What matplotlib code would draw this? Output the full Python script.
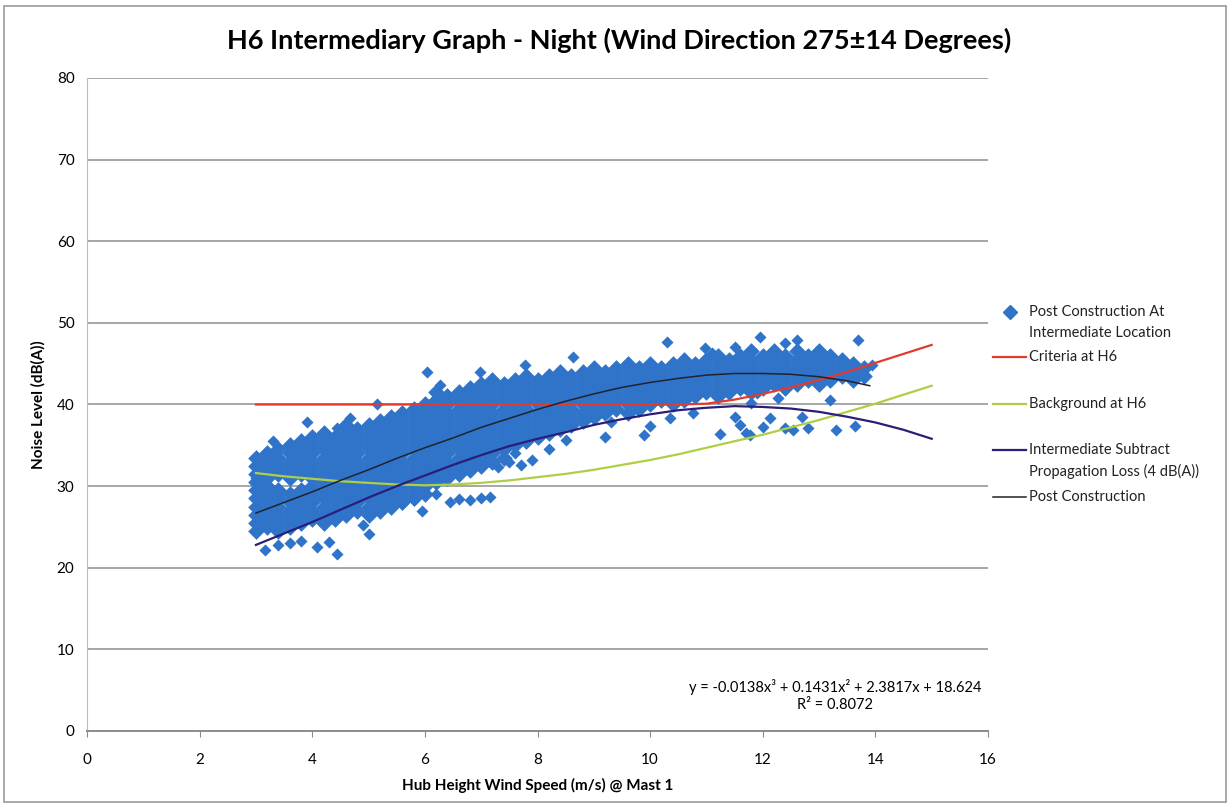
import matplotlib

matplotlib.use("Agg")
import matplotlib.pyplot as plt  # noqa: E402
from matplotlib.lines import Line2D  # noqa: E402
from matplotlib.patches import Rectangle  # noqa: E402

plt.rcParams["font.family"] = ["Lato", "DejaVu Sans"]

TITLE = "H6 Intermediary Graph - Night (Wind Direction 275\u00b114 Degrees)"
X_LABEL = "Hub Height Wind Speed (m/s) @ Mast 1"
Y_LABEL = "Noise Level (dB(A))"
EQUATION = "y = -0.0138x\u00b3 + 0.1431x\u00b2 + 2.3817x + 18.624"
R_SQUARED = "R\u00b2 = 0.8072"

x_ticks = [0, 2, 4, 6, 8, 10, 12, 14, 16]
y_ticks = [0, 10, 20, 30, 40, 50, 60, 70, 80]

# dense cloud, read column by column (wind speed -> noise levels)
cloud_columns = [
    (3.0, [24.5, 25.5, 26.5, 27.5, 28.5, 29.5, 30.5, 31.5, 32.5, 33.5]),
    (3.2, [25.0, 26.0, 27.0, 28.0, 29.0, 30.0, 31.0, 32.0, 33.0, 34.0]),
    (3.4, [24.5, 25.5, 26.5, 27.5, 28.5, 29.5, 31.5, 32.5, 33.5, 34.5]),
    (3.6, [25.0, 26.0, 27.0, 28.0, 29.0, 31.0, 32.0, 33.0, 34.0, 35.0]),
    (3.8, [25.5, 26.5, 27.5, 28.5, 29.5, 31.5, 32.5, 33.5, 34.5, 35.5]),
    (4.0, [26.0, 27.0, 28.0, 29.0, 30.0, 31.0, 32.0, 33.0, 34.0, 35.0, 36.0]),
    (4.2, [25.5, 26.5, 27.5, 28.5, 29.5, 30.5, 31.5, 32.5, 33.5, 34.5, 35.5, 36.5]),
    (4.4, [26.0, 27.0, 28.0, 29.0, 30.0, 31.0, 32.0, 33.0, 34.0, 35.0, 36.0]),
    (4.6, [26.5, 27.5, 28.5, 29.5, 30.5, 31.5, 32.5, 33.5, 34.5, 35.5, 36.5, 37.5]),
    (4.8, [27.0, 28.0, 29.0, 30.0, 31.0, 32.0, 33.0, 34.0, 35.0, 36.0, 37.0]),
    (5.0, [26.5, 27.5, 28.5, 29.5, 30.5, 31.5, 32.5, 33.5, 34.5, 35.5, 36.5, 37.5]),
    (5.2, [27.0, 28.0, 29.0, 30.0, 31.0, 32.0, 33.0, 34.0, 35.0, 36.0, 37.0, 38.0]),
    (5.4, [27.5, 28.5, 29.5, 30.5, 31.5, 32.5, 33.5, 34.5, 35.5, 36.5, 37.5, 38.5]),
    (5.6, [28.0, 29.0, 30.0, 31.0, 32.0, 33.0, 34.0, 35.0, 36.0, 37.0, 38.0, 39.0]),
    (5.8, [28.5, 29.5, 30.5, 31.5, 32.5, 33.5, 34.5, 35.5, 36.5, 37.5, 38.5, 39.5]),
    (6.0, [29.0, 30.0, 31.0, 32.0, 33.0, 34.0, 35.0, 36.0, 37.0, 38.0, 39.0, 40.0]),
    (6.2, [30.5, 31.5, 32.5, 33.5, 34.5, 35.5, 36.5, 37.5, 38.5, 39.5, 40.5, 41.5]),
    (6.4, [31.0, 32.0, 33.0, 34.0, 35.0, 36.0, 37.0, 38.0, 39.0, 40.0, 41.0]),
    (6.6, [31.5, 32.5, 33.5, 34.5, 35.5, 36.5, 37.5, 38.5, 39.5, 40.5, 41.5]),
    (6.8, [32.0, 33.0, 34.0, 35.0, 36.0, 37.0, 38.0, 39.0, 40.0, 41.0, 42.0]),
    (7.0, [32.5, 33.5, 34.5, 35.5, 36.5, 37.5, 38.5, 39.5, 40.5, 41.5, 42.5]),
    (7.2, [33.0, 34.0, 35.0, 36.0, 37.0, 38.0, 39.0, 40.0, 41.0, 42.0, 43.0]),
    (7.4, [33.5, 34.5, 35.5, 36.5, 37.5, 38.5, 39.5, 40.5, 41.5, 42.5]),
    (7.6, [35.0, 36.0, 37.0, 38.0, 39.0, 40.0, 41.0, 42.0, 43.0]),
    (7.8, [35.5, 36.5, 37.5, 38.5, 39.5, 40.5, 41.5, 42.5, 43.5]),
    (8.0, [36.0, 37.0, 38.0, 39.0, 40.0, 41.0, 42.0, 43.0]),
    (8.2, [36.5, 37.5, 38.5, 39.5, 40.5, 41.5, 42.5, 43.5]),
    (8.4, [37.0, 38.0, 39.0, 40.0, 41.0, 42.0, 43.0, 44.0]),
    (8.6, [37.5, 38.5, 39.5, 40.5, 41.5, 42.5, 43.5]),
    (8.8, [38.0, 39.0, 40.0, 41.0, 42.0, 43.0, 44.0]),
    (9.0, [38.5, 39.5, 40.5, 41.5, 42.5, 43.5, 44.5]),
    (9.2, [39.0, 40.0, 41.0, 42.0, 43.0, 44.0]),
    (9.4, [39.5, 40.5, 41.5, 42.5, 43.5, 44.5]),
    (9.6, [39.0, 40.0, 41.0, 42.0, 43.0, 44.0, 45.0]),
    (9.8, [39.5, 40.5, 41.5, 42.5, 43.5, 44.5]),
    (10.0, [40.0, 41.0, 42.0, 43.0, 44.0, 45.0]),
    (10.2, [40.5, 41.5, 42.5, 43.5, 44.5]),
    (10.4, [40.0, 41.0, 42.0, 43.0, 44.0, 45.0]),
    (10.6, [40.5, 41.5, 42.5, 43.5, 44.5, 45.5]),
    (10.8, [41.0, 42.0, 43.0, 44.0, 45.0]),
    (11.0, [41.5, 42.5, 43.5, 44.5, 45.5]),
    (11.2, [41.0, 42.0, 43.0, 44.0, 45.0, 46.0]),
    (11.4, [41.5, 42.5, 43.5, 44.5, 45.5]),
    (11.6, [42.0, 43.0, 44.0, 45.0, 46.0]),
    (11.8, [41.5, 42.5, 43.5, 44.5, 45.5, 46.5]),
    (12.0, [42.0, 43.0, 44.0, 45.0, 46.0]),
    (12.2, [42.5, 43.5, 44.5, 45.5, 46.5]),
    (12.4, [42.0, 43.0, 44.0, 45.0, 46.0]),
    (12.6, [42.5, 43.5, 44.5, 45.5, 46.5]),
    (12.8, [43.0, 44.0, 45.0, 46.0]),
    (13.0, [42.5, 43.5, 44.5, 45.5, 46.5]),
    (13.2, [43.0, 44.0, 45.0, 46.0]),
    (13.4, [43.5, 44.5, 45.5]),
    (13.6, [43.0, 44.0, 45.0]),
    (13.8, [43.5, 44.5]),
]

# scattered readings outside the dense band
stray_x = [3.16, 3.4, 3.6, 3.8, 4.08, 4.3, 4.44, 3.9, 4.67, 4.44, 5.15, 5.0,
           6.04, 6.27, 6.98, 7.78, 5.95, 6.45, 6.6, 6.8, 7.0, 7.16, 7.3, 7.5,
           7.7, 7.9, 7.6, 8.2, 8.5, 9.2, 9.3, 9.9, 10.0, 10.36, 10.76, 11.24,
           8.63, 10.3, 10.98, 11.1, 11.5, 11.95, 12.4, 12.6, 13.7, 11.5, 11.6,
           11.7, 11.78, 12.0, 12.13, 12.4, 12.54, 12.7, 12.8, 13.2, 13.3, 13.64,
           12.27, 11.9, 11.8, 13.94, 3.0, 3.3, 5.6, 5.8, 6.2, 4.9]
stray_y = [22.2, 22.8, 23.0, 23.3, 22.5, 23.2, 21.7, 37.9, 38.4, 37.1, 40.0, 24.1,
           44.0, 42.4, 44.0, 44.8, 27.0, 28.1, 28.4, 28.3, 28.6, 28.7, 32.4, 33.0,
           32.6, 33.2, 34.0, 34.5, 35.7, 36.0, 37.9, 36.3, 37.4, 38.4, 39.0, 36.4,
           45.8, 47.7, 46.9, 46.3, 47.1, 48.3, 47.5, 47.9, 47.9, 38.5, 37.5,
           36.5, 36.3, 37.3, 38.3, 37.1, 36.9, 38.5, 37.1, 40.6, 36.9, 37.4,
           40.8, 41.4, 40.2, 44.9, 31.0, 35.5, 27.8, 28.3, 29.0, 25.2]

criteria_x = [3, 4, 5, 6, 7, 8, 9, 10, 10.5, 11, 11.5, 12, 12.5, 13, 13.5, 14, 14.5, 15]
criteria_y = [40.0, 40.0, 40.0, 40.0, 40.0, 40.0, 40.0, 40.0, 40.0, 40.1, 40.6, 41.3,
              42.1, 43.0, 44.0, 45.1, 46.2, 47.3]

background_x = [3, 3.5, 4, 4.5, 5, 5.5, 6, 6.5, 7, 7.5, 8, 8.5, 9, 9.5, 10, 10.5,
                11, 11.5, 12, 12.5, 13, 13.5, 14, 14.5, 15]
background_y = [31.6, 31.2, 30.9, 30.6, 30.4, 30.2, 30.1, 30.2, 30.4, 30.7, 31.1,
                31.5, 32.0, 32.6, 33.2, 33.9, 34.7, 35.5, 36.3, 37.2, 38.1, 39.1,
                40.1, 41.2, 42.3]

intermediate_x = [3, 3.5, 4, 4.5, 5, 5.5, 6, 6.5, 7, 7.5, 8, 8.5, 9, 9.5, 10, 10.5,
                  11, 11.5, 12, 12.5, 13, 13.5, 14, 14.5, 15]
intermediate_y = [22.8, 24.2, 25.6, 27.1, 28.6, 30.0, 31.3, 32.6, 33.8, 34.9, 35.8,
                  36.6, 37.5, 38.2, 38.8, 39.3, 39.6, 39.8, 39.7, 39.5, 39.1, 38.5,
                  37.8, 36.9, 35.8]

post_x = [3, 3.5, 4, 4.5, 5, 5.5, 6, 6.5, 7, 7.5, 8, 8.5, 9, 9.5, 10, 10.5, 11,
          11.5, 12, 12.5, 13, 13.5, 13.9]
post_y = [26.7, 28.0, 29.3, 30.7, 32.0, 33.4, 34.7, 35.9, 37.2, 38.3, 39.4, 40.4,
          41.3, 42.1, 42.7, 43.2, 43.6, 43.8, 43.8, 43.7, 43.4, 42.9, 42.3]

BLUE = "#2F74C8"
RED = "#E23B2E"
GREEN = "#AECF45"
PURPLE = "#2A1E78"
BLACK = "#20232E"

W, H = 1231, 806
fig = plt.figure(figsize=(W / 100, H / 100), dpi=100)
ax = fig.add_axes([87 / W, 1 - 731 / H, (988 - 87) / W, (731 - 78) / H])

cloud_x = [cx for cx, ys in cloud_columns for _ in ys]
cloud_y = [y for _, ys in cloud_columns for y in ys]
ax.scatter(cloud_x, cloud_y, marker="D", s=72, color=BLUE, linewidths=0, zorder=3)
ax.scatter(stray_x, stray_y, marker="D", s=38, color=BLUE, linewidths=0, zorder=3)

ax.plot(criteria_x, criteria_y, color=RED, lw=1.6, zorder=4)
ax.plot(background_x, background_y, color=GREEN, lw=1.6, zorder=4)
ax.plot(intermediate_x, intermediate_y, color=PURPLE, lw=1.6, zorder=4)
ax.plot(post_x, post_y, color=BLACK, lw=1.1, zorder=5)

ax.set_xlim(0, 16)
ax.set_ylim(0, 80)
ax.set_xticks(x_ticks)
ax.set_yticks(y_ticks)
ax.yaxis.grid(True, color="#A6A6A6", lw=1.4)
ax.set_axisbelow(True)
for side in ("top", "right"):
    ax.spines[side].set_visible(False)
ax.spines["left"].set_color("#BDBDBD")
ax.spines["bottom"].set_color("#8C8C8C")
ax.spines["bottom"].set_linewidth(1.4)
ax.tick_params(axis="x", length=4, color="#8C8C8C", labelsize=11, pad=12)
ax.tick_params(axis="y", length=0, labelsize=11, pad=9)
ax.set_xlabel(X_LABEL, fontsize=11, fontweight="bold", labelpad=8)
ax.set_ylabel(Y_LABEL, fontsize=11, fontweight="bold", labelpad=8)

fig.text(0.503, 1 - 40 / H, TITLE, ha="center", va="center", fontsize=19.5,
         fontweight="bold")

ax.text(835 / W, 1 - 687 / H, EQUATION, transform=fig.transFigure, ha="center",
        va="center", fontsize=10.5)
ax.text(835 / W, 1 - 705 / H, R_SQUARED, transform=fig.transFigure, ha="center",
        va="center", fontsize=10.5)


# legend laid out like the spreadsheet one
def fx(px):
    return px / W


def fy(py):
    return 1 - py / H


fig.add_artist(Line2D([fx(1010)], [fy(312)], marker="D", markersize=7, color=BLUE,
                      lw=0, transform=fig.transFigure))
legend_rows = [
    (None, ["Post Construction At", "Intermediate Location"], 312),
    ((RED, 1.6), ["Criteria at H6"], 357),
    ((GREEN, 1.6), ["Background at H6"], 404),
    ((PURPLE, 1.6), ["Intermediate Subtract", "Propagation Loss (4 dB(A))"], 450),
    ((BLACK, 1.1), ["Post Construction"], 497),
]
for line_style, lines, top in legend_rows:
    if line_style is not None:
        color, width = line_style
        fig.add_artist(Line2D([fx(993), fx(1026)], [fy(top), fy(top)], color=color,
                              lw=width, transform=fig.transFigure))
    for i, text in enumerate(lines):
        fig.text(fx(1029), fy(top + 21 * i), text, ha="left", va="center",
                 fontsize=10.5, color="#222222")

fig.add_artist(Rectangle((fx(4), fy(802)), fx(1222), 796 / H, fill=False,
                         edgecolor="#9A9A9A", lw=1.2, transform=fig.transFigure))

fig.savefig("out.png", dpi=100)
